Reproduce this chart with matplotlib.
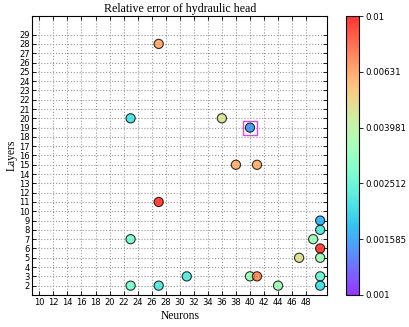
import matplotlib
matplotlib.use('Agg')
import matplotlib.pyplot as plt
from matplotlib.colors import LogNorm

# neurons (x), layers (y), relative error (colour)
neurons = [27, 23, 36, 40, 38, 41, 27, 23, 23, 27, 31, 50, 50, 49, 50, 47, 50, 40, 41, 50, 44, 50]
layers = [28, 20, 20, 19, 15, 15, 11, 7, 2, 2, 3, 9, 8, 7, 6, 5, 5, 3, 3, 3, 2, 2]
errors = [0.0063, 0.00215, 0.0045, 0.0015, 0.006, 0.006, 0.0093, 0.0028, 0.0028, 0.00225,
          0.0023, 0.0017, 0.0023, 0.0034, 0.0093, 0.0047, 0.0034, 0.0034, 0.0071, 0.0026,
          0.0034, 0.0021]

best_x = [40]
best_y = [19]

cbar_ticks = [0.001, 0.001585, 0.002512, 0.003981, 0.00631, 0.01]
cbar_labels = ['0.001', '0.001585', '0.002512', '0.003981', '0.00631', '0.01']

fig = plt.figure(figsize=(4.09, 3.27), dpi=100)
ax = fig.add_axes([0.079, 0.098, 0.721, 0.853])
cax = fig.add_axes([0.845, 0.098, 0.0325, 0.853])

sc = ax.scatter(neurons, layers, c=errors, cmap='rainbow', norm=LogNorm(vmin=0.001, vmax=0.01),
                s=44, edgecolors='black', linewidths=0.8, alpha=0.8, zorder=3)
ax.scatter(best_x, best_y, marker='s', s=100, facecolors='none', edgecolors='#d050e0',
           linewidths=1.0, zorder=4)

ax.set_xlim(9, 51)
ax.set_ylim(1, 31)
ax.set_xticks(range(10, 50, 2))
ax.set_yticks(range(2, 30))
ax.tick_params(direction='in', top=True, right=True, labelsize=6, length=3, width=0.6, pad=2)
ax.grid(True, linestyle=':', color='0.6', linewidth=0.8)
ax.set_axisbelow(True)

ax.set_title('Relative error of hydraulic head', family='Liberation Serif', fontsize=8.6, pad=3)
ax.set_xlabel('Neurons', family='Liberation Serif', fontsize=8.3, labelpad=2)
ax.set_ylabel('Layers', family='Liberation Serif', fontsize=8.3, labelpad=1)

cb = fig.colorbar(sc, cax=cax)
cb.set_ticks(cbar_ticks)
cb.set_ticklabels(cbar_labels)
cb.minorticks_off()
cax.tick_params(labelsize=6.2, length=3, width=0.6, pad=2)

fig.savefig('out.png', dpi=100)
